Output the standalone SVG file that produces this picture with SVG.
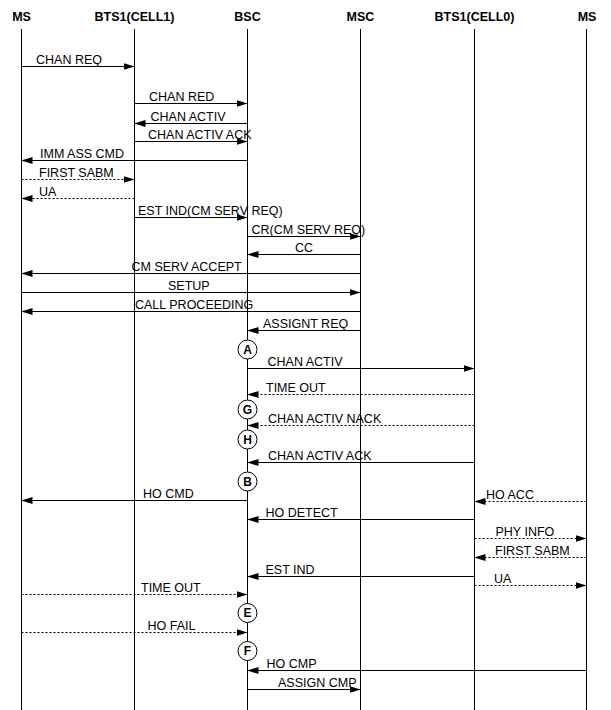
<svg xmlns="http://www.w3.org/2000/svg" width="611" height="710" viewBox="0 0 611 710">
<style>
.hdr{font-family:"Liberation Sans",Arial,sans-serif;font-weight:bold;font-size:12.5px;text-anchor:middle;fill:#000}
.lbl{font-family:"Liberation Sans",Arial,sans-serif;font-size:12.5px;fill:#000}
.life{stroke:#000;stroke-width:1;fill:none}
.msg{stroke:#000;stroke-width:1;fill:none;marker-end:url(#ah)}
.dot{stroke-dasharray:2 2}
.circ{fill:#fff;stroke:#000;stroke-width:1}
.ct{font-family:"Liberation Sans",Arial,sans-serif;font-weight:bold;font-size:12px;text-anchor:middle;fill:#000}
</style>
<defs>
<marker id="ah" markerUnits="userSpaceOnUse" markerWidth="11" markerHeight="7" refX="11" refY="3.5" orient="auto">
<path d="M0,0 L11,3.5 L0,7 z" fill="#000" stroke="none"/>
</marker>
</defs>
<rect width="611" height="710" fill="#fff"/>
<g id="lifelines">
<g id="ms1"><text class="hdr" x="21.5" y="21">MS</text><line class="life" x1="21.5" y1="29" x2="21.5" y2="710"/></g>
<g id="bts1cell1"><text class="hdr" x="134.5" y="21">BTS1(CELL1)</text><line class="life" x1="134.5" y1="29" x2="134.5" y2="710"/></g>
<g id="bsc"><text class="hdr" x="247.5" y="21">BSC</text><line class="life" x1="247.5" y1="29" x2="247.5" y2="710"/></g>
<g id="msc"><text class="hdr" x="360.5" y="21">MSC</text><line class="life" x1="360.5" y1="29" x2="360.5" y2="710"/></g>
<g id="bts1cell0"><text class="hdr" x="474.5" y="21">BTS1(CELL0)</text><line class="life" x1="474.5" y1="29" x2="474.5" y2="710"/></g>
<g id="ms2"><text class="hdr" x="587" y="21">MS</text><line class="life" x1="586.5" y1="29" x2="586.5" y2="710"/></g>
</g>
<g id="connectors">
<line class="msg" x1="21.5" y1="66.5" x2="134.5" y2="66.5"/><text class="lbl" x="36" y="63.5">CHAN REQ</text>
<line class="msg" x1="134.5" y1="103.5" x2="247.5" y2="103.5"/><text class="lbl" x="149" y="100.5">CHAN RED</text>
<line class="msg" x1="247.5" y1="123.5" x2="134.5" y2="123.5"/><text class="lbl" x="150.5" y="120.5">CHAN ACTIV</text>
<line class="msg" x1="134.5" y1="141.5" x2="247.5" y2="141.5"/><text class="lbl" x="148" y="138.5">CHAN ACTIV ACK</text>
<line class="msg" x1="247.5" y1="160.5" x2="21.5" y2="160.5"/><text class="lbl" x="40" y="157.5">IMM ASS CMD</text>
<line class="msg dot" x1="21.5" y1="179.5" x2="134.5" y2="179.5"/><text class="lbl" x="39" y="176.5">FIRST SABM</text>
<line class="msg dot" x1="134.5" y1="198.5" x2="21.5" y2="198.5"/><text class="lbl" x="39" y="195.5">UA</text>
<line class="msg" x1="134.5" y1="217.5" x2="247.5" y2="217.5"/><text class="lbl" x="138" y="214.5">EST IND(CM SERV REQ)</text>
<line class="msg" x1="247.5" y1="236.5" x2="360.5" y2="236.5"/><text class="lbl" x="251.5" y="233.5">CR(CM SERV REQ)</text>
<line class="msg" x1="360.5" y1="254.5" x2="247.5" y2="254.5"/><text class="lbl" x="295" y="251.5">CC</text>
<line class="msg" x1="360.5" y1="273.5" x2="21.5" y2="273.5"/><text class="lbl" x="131.5" y="270.5">CM SERV ACCEPT</text>
<line class="msg" x1="21.5" y1="292.5" x2="360.5" y2="292.5"/><text class="lbl" x="168" y="289.5">SETUP</text>
<line class="msg" x1="360.5" y1="311.5" x2="21.5" y2="311.5"/><text class="lbl" x="135" y="308.5">CALL PROCEEDING</text>
<line class="msg" x1="360.5" y1="330.5" x2="247.5" y2="330.5"/><text class="lbl" x="263" y="327.5">ASSIGNT REQ</text>
<line class="msg" x1="247.5" y1="368.5" x2="474.5" y2="368.5"/><text class="lbl" x="267.5" y="365.5">CHAN ACTIV</text>
<line class="msg dot" x1="474.5" y1="394.5" x2="247.5" y2="394.5"/><text class="lbl" x="266" y="391.5">TIME OUT</text>
<line class="msg dot" x1="474.5" y1="425.5" x2="247.5" y2="425.5"/><text class="lbl" x="268" y="422.5">CHAN ACTIV NACK</text>
<line class="msg" x1="474.5" y1="462.5" x2="247.5" y2="462.5"/><text class="lbl" x="268" y="459.5">CHAN ACTIV ACK</text>
<line class="msg" x1="247.5" y1="500.5" x2="21.5" y2="500.5"/><text class="lbl" x="143" y="497.5">HO CMD</text>
<line class="msg dot" x1="586.5" y1="501.5" x2="474.5" y2="501.5"/><text class="lbl" x="486" y="498.5">HO ACC</text>
<line class="msg" x1="474.5" y1="519.5" x2="247.5" y2="519.5"/><text class="lbl" x="265.5" y="516.5">HO DETECT</text>
<line class="msg dot" x1="474.5" y1="538.5" x2="586.5" y2="538.5"/><text class="lbl" x="495.5" y="535.5">PHY INFO</text>
<line class="msg dot" x1="586.5" y1="557.5" x2="474.5" y2="557.5"/><text class="lbl" x="495" y="554.5">FIRST SABM</text>
<line class="msg" x1="474.5" y1="576.5" x2="247.5" y2="576.5"/><text class="lbl" x="265.5" y="573.5">EST IND</text>
<line class="msg dot" x1="474.5" y1="585.5" x2="586.5" y2="585.5"/><text class="lbl" x="494" y="582.5">UA</text>
<line class="msg dot" x1="21.5" y1="594.5" x2="247.5" y2="594.5"/><text class="lbl" x="141" y="591.5">TIME OUT</text>
<line class="msg dot" x1="21.5" y1="632.5" x2="247.5" y2="632.5"/><text class="lbl" x="147.5" y="629.5">HO FAIL</text>
<line class="msg" x1="586.5" y1="670.5" x2="247.5" y2="670.5"/><text class="lbl" x="266.5" y="667.5">HO CMP</text>
<line class="msg" x1="247.5" y1="689.5" x2="360.5" y2="689.5"/><text class="lbl" x="278" y="686.5">ASSIGN CMP</text>
</g>
<g id="markA"><circle class="circ" cx="247.5" cy="349.5" r="9.5"/><text class="ct" x="247.5" y="353.8">A</text></g>
<g id="markG"><circle class="circ" cx="247.5" cy="409.5" r="9.5"/><text class="ct" x="247.5" y="413.8">G</text></g>
<g id="markH"><circle class="circ" cx="247.5" cy="439.5" r="9.5"/><text class="ct" x="247.5" y="443.8">H</text></g>
<g id="markB"><circle class="circ" cx="247.5" cy="481.5" r="9.5"/><text class="ct" x="247.5" y="485.8">B</text></g>
<g id="markE"><circle class="circ" cx="247.5" cy="613" r="9.5"/><text class="ct" x="247.5" y="617.3">E</text></g>
<g id="markF"><circle class="circ" cx="247.5" cy="651" r="9.5"/><text class="ct" x="247.5" y="655.3">F</text></g>
</svg>
